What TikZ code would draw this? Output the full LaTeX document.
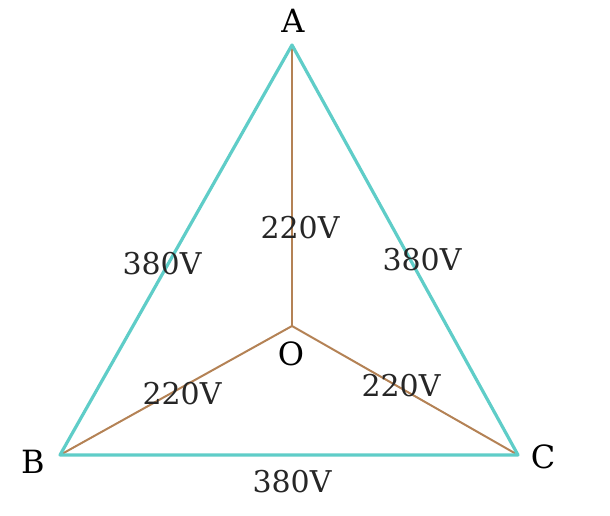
\documentclass[tikz,border=0pt]{standalone}
\usepackage{fontspec}
\setmainfont{DejaVu Serif}
\definecolor{tri}{RGB}{95,205,200}
\definecolor{spoke}{RGB}{180,130,85}
\begin{document}
\begin{tikzpicture}[x=1pt,y=-1pt,
  side/.style={draw=tri,line width=3.2pt,line join=round},
  spk/.style={draw=spoke,line width=2pt},
  vlab/.style={font=\fontsize{30}{32}\selectfont,text=black!85,inner sep=0pt},
  plab/.style={font=\fontsize{32}{34}\selectfont,text=black,inner sep=0pt}]
\useasboundingbox (0,0) rectangle (610,515);
\coordinate (A) at (292,45);
\coordinate (B) at (60,455);
\coordinate (C) at (518,455);
\coordinate (O) at (292,326);
\draw[spk] (O) -- (A);
\draw[spk] (O) -- (B);
\draw[spk] (O) -- (C);
\draw[side] (A) -- (B) -- (C) -- cycle;
\node[plab] (lA) at (293,21) {A};
\node[plab] (lB) at (33,462) {B};
\node[plab] (lC) at (543,457) {C};
\node[plab] (lO) at (291,354) {O};
\node[vlab] (v1) at (300,228) {220V};
\node[vlab] (v2) at (162,264) {380V};
\node[vlab] (v3) at (422,260) {380V};
\node[vlab] (v4) at (182,394) {220V};
\node[vlab] (v5) at (401,386) {220V};
\node[vlab] (v6) at (292,482) {380V};
\end{tikzpicture}
\end{document}
